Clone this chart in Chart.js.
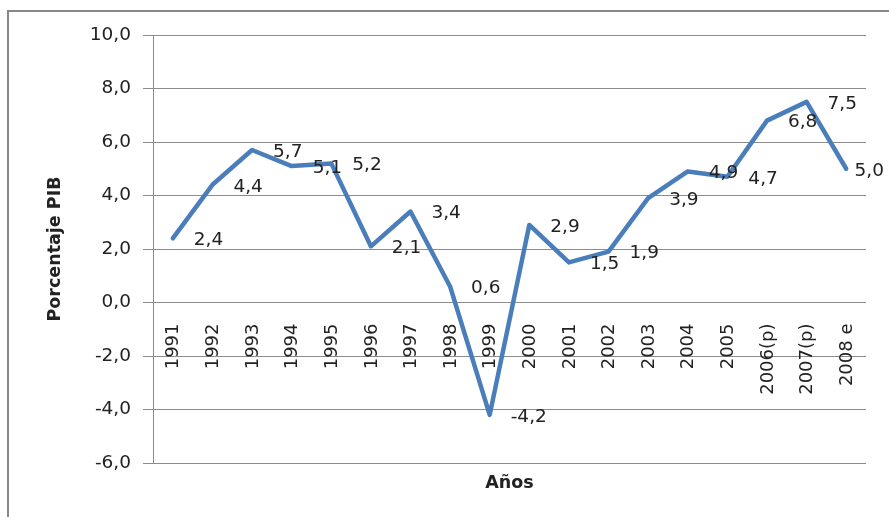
<!DOCTYPE html>
<html>
<head>
<meta charset="utf-8">
<script src="https://cdn.jsdelivr.net/npm/chart.js@4/dist/chart.umd.min.js"></script>
<style>
  html, body { margin: 0; padding: 0; background: #ffffff; }
  #wrap { width: 889px; height: 517px; position: relative; }
</style>
</head>
<body>
<div id="wrap"><canvas id="c" width="889" height="517"></canvas></div>
<script>
const categories = ['1991','1992','1993','1994','1995','1996','1997','1998','1999','2000','2001','2002','2003','2004','2005','2006(p)','2007(p)','2008 e'];
const values = [2.4, 4.4, 5.7, 5.1, 5.2, 2.1, 3.4, 0.6, -4.2, 2.9, 1.5, 1.9, 3.9, 4.9, 4.7, 6.8, 7.5, 5.0];
const yMin = -6;
const yMax = 10;
const yStep = 2;
const yTitle = 'Porcentaje PIB';
const xTitle = 'Años';

const FONT = 'DejaVu Sans';
const TEXT = '#222222';
const GRID = '#8c8c8c';
const fmt = v => v.toFixed(1).replace('.', ',');

const framePlugin = {
  id: 'frame',
  beforeDraw(chart) {
    const ctx = chart.ctx;
    ctx.save();
    ctx.strokeStyle = '#888888';
    ctx.lineWidth = 2;
    ctx.strokeRect(8, 11, 2000, 2000);
    ctx.restore();
  }
};

const labelsPlugin = {
  id: 'labels',
  afterDatasetsDraw(chart) {
    const ctx = chart.ctx;
    const xs = chart.scales.x, ys = chart.scales.y;
    const meta = chart.getDatasetMeta(0);
    ctx.save();
    ctx.fillStyle = TEXT;
    // category labels, rotated, ending just below the zero line
    ctx.font = '18px "' + FONT + '"';
    const y0 = ys.getPixelForValue(0) + 21;
    categories.forEach((c, i) => {
      const x = xs.getPixelForValue(i);
      ctx.save();
      ctx.translate(x + 1, y0);
      ctx.rotate(-Math.PI / 2);
      ctx.textAlign = 'right';
      ctx.textBaseline = 'middle';
      ctx.fillText(c, 0, 0);
      ctx.restore();
    });
    // data labels, to the right of each point, kept inside the chart
    ctx.font = '18.5px "' + FONT + '"';
    ctx.textAlign = 'left';
    ctx.textBaseline = 'middle';
    const maxRight = chart.width - 5;
    meta.data.forEach((pt, i) => {
      const t = fmt(values[i]);
      const w = ctx.measureText(t).width;
      let x = pt.x + 21;
      if (x + w > maxRight) x = maxRight - w;
      ctx.fillText(t, x, pt.y + 2);
    });
    ctx.restore();
  }
};

new Chart(document.getElementById('c'), {
  type: 'line',
  data: {
    labels: categories,
    datasets: [{
      data: values,
      borderColor: '#4a7ebb',
      borderWidth: 4.5,
      pointRadius: 0,
      borderJoinStyle: 'round',
      borderCapStyle: 'round',
      tension: 0,
      fill: false
    }]
  },
  options: {
    responsive: false,
    animation: false,
    events: [],
    layout: { padding: { top: 35, right: 23, left: 0, bottom: 0 } },
    plugins: { legend: { display: false }, tooltip: { enabled: false } },
    scales: {
      x: {
        type: 'category',
        offset: true,
        grid: { display: false },
        border: { display: false },
        ticks: { display: false },
        title: {
          display: true,
          text: xTitle,
          color: TEXT,
          font: { family: FONT, size: 17.5, weight: 'bold' },
          padding: { top: 0, bottom: 23 }
        },
        afterFit(scale) { scale.height = 54; }
      },
      y: {
        min: yMin,
        max: yMax,
        ticks: {
          stepSize: yStep,
          color: TEXT,
          padding: 12,
          font: { family: FONT, size: 18.5 },
          callback: v => fmt(v)
        },
        grid: { color: GRID, lineWidth: 1, tickLength: 10, drawTicks: true },
        border: { display: true, color: GRID, width: 1 },
        title: {
          display: true,
          text: yTitle,
          color: TEXT,
          font: { family: FONT, size: 17.5, weight: 'bold' },
          padding: { top: 45, bottom: 0 }
        },
        afterFit(scale) { scale.width = 153; }
      }
    }
  },
  plugins: [framePlugin, labelsPlugin]
});
</script>
</body>
</html>
